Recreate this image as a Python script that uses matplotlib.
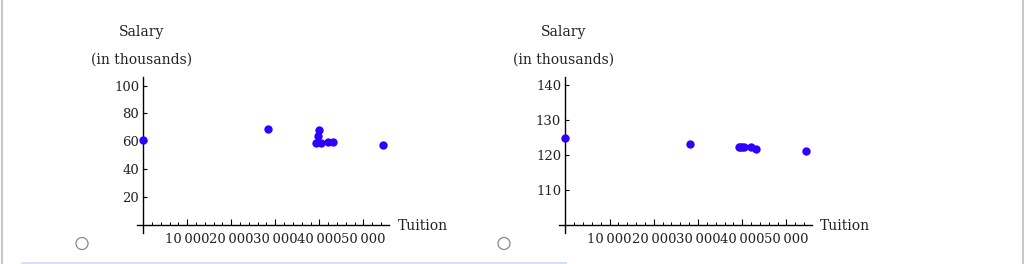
import matplotlib.pyplot as plt
from matplotlib.patches import Ellipse
from matplotlib.lines import Line2D
from matplotlib.ticker import FuncFormatter, MultipleLocator

# data
tuition = [0, 28300, 39300, 39600, 39900, 40300, 41900, 43100, 54400]
salary_left = [60.7, 68.8, 58.8, 64.0, 68.3, 58.8, 59.7, 59.7, 57.6]
salary_right = [124.8, 123.2, 122.2, 122.2, 122.2, 122.2, 122.3, 121.9, 121.3]
x_ticks = [10000, 20000, 30000, 40000, 50000]
y_ticks_left = [20, 40, 60, 80, 100]
y_ticks_right = [110, 120, 130, 140]

W, H = 1024, 264
fig = plt.figure(figsize=(W / 100, H / 100), dpi=100)
plt.rcParams['font.family'] = 'DejaVu Serif'
dot_color = '#2e00ff'
txt = '#222222'


def box(x0, y0, x1, y1):
    # pixel box (top-left origin) -> figure fraction
    return [x0 / W, 1 - y1 / H, (x1 - x0) / W, (y1 - y0) / H]


def fmt(v, pos):
    return '{:,}'.format(int(v)).replace(',', '\u2009')


def panel(rect, xlim, ylim, ybase, yvals, yticks, cx):
    ax = fig.add_axes(rect)
    ax.set_xlim(*xlim)
    ax.set_ylim(*ylim)
    ax.patch.set_alpha(0)
    for s in ['top', 'right']:
        ax.spines[s].set_visible(False)
    ax.spines['left'].set_position(('data', 0))
    ax.spines['bottom'].set_position(('data', ybase))
    for s in ['left', 'bottom']:
        ax.spines[s].set_linewidth(1.0)
    ax.set_xticks(x_ticks)
    ax.xaxis.set_minor_locator(MultipleLocator(2000))
    ax.xaxis.set_major_formatter(FuncFormatter(fmt))
    ax.set_yticks(yticks)
    ax.tick_params(axis='x', which='major', direction='in', length=4, width=0.8,
                   pad=6, labelsize=9.5, labelcolor=txt)
    ax.tick_params(axis='x', which='minor', direction='in', length=2.5, width=0.7)
    ax.tick_params(axis='y', which='major', direction='in', length=3, width=0.8,
                   pad=3, labelsize=9.5, labelcolor=txt)
    ax.scatter(tuition, yvals, s=36, color=dot_color, zorder=3, clip_on=False,
               linewidths=0)
    fig.text((cx + 256) / W, 1 - 226 / H, 'Tuition', fontsize=10, color=txt,
             ha='left', va='center')
    fig.text(cx / W, 1 - 32 / H, 'Salary', fontsize=10, color=txt,
             ha='center', va='center')
    fig.text(cx / W, 1 - 60 / H, '(in thousands)', fontsize=10, color=txt,
             ha='center', va='center')
    return ax


panel(box(137, 77.3, 389, 233), (-1430, 55840), (-5.7, 105.9), 0,
      salary_left, y_ticks_left, 142)
panel(box(559.3, 77.3, 811.7, 233), (-1360, 55700), (97.7, 142.3), 100,
      salary_right, y_ticks_right, 564)

# page decorations
for cx in [82, 504]:
    fig.patches.append(Ellipse((cx / W, 1 - 243.5 / H), 12 / W, 12 / H,
                               transform=fig.transFigure, fill=False,
                               edgecolor='#8a8a8a', linewidth=0.9))
fig.lines.append(Line2D([22 / W, 565 / W], [1 - 262.5 / H] * 2, transform=fig.transFigure,
                        color='#d5dcf7', linewidth=2))
for xx in [1.5, 1022.5]:
    fig.lines.append(Line2D([xx / W] * 2, [0, 1], transform=fig.transFigure,
                            color='#c8c8c8', linewidth=1.5))

fig.savefig('out.png', dpi=100)
